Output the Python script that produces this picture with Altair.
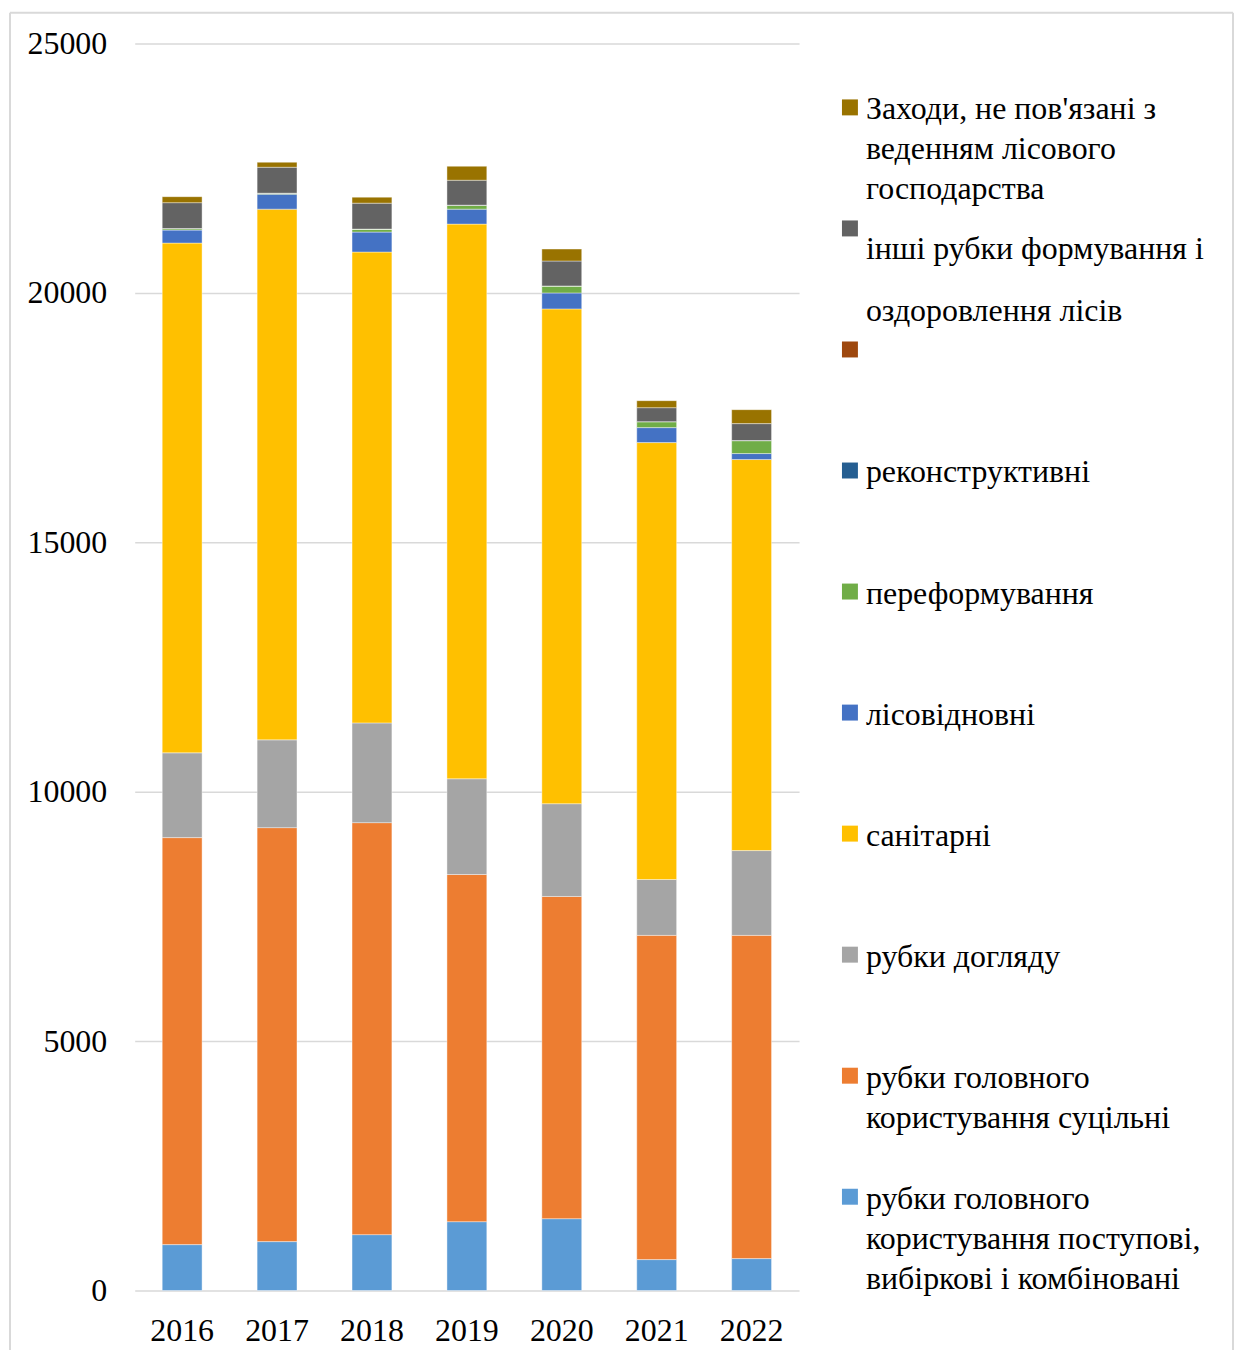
import altair as alt
import pandas as pd

# ---------------- data ----------------
years = ["2016", "2017", "2018", "2019", "2020", "2021", "2022"]

# stack order, bottom to top
series_names = [
    "рубки головного користування поступові, вибіркові і комбіновані",
    "рубки головного користування суцільні",
    "рубки догляду",
    "санітарні",
    "лісовідновні",
    "переформування",
    "реконструктивні",
    "(без назви)",
    "інші рубки формування і оздоровлення лісів",
    "Заходи, не пов'язані з веденням лісового господарства",
]

postupovi = [920, 980, 1120, 1380, 1440, 620, 640]
sucilni = [8160, 8300, 8260, 6960, 6460, 6500, 6480]
dohlyadu = [1700, 1760, 2000, 1920, 1860, 1120, 1700]
sanitarni = [10220, 10640, 9440, 11120, 9920, 8760, 7840]
lisovidnovni = [260, 300, 400, 300, 320, 300, 120]
pereformuvannya = [30, 20, 60, 80, 140, 120, 260]
rekonstruktyvni = [0, 0, 0, 0, 0, 0, 0]
bez_nazvy = [0, 0, 0, 0, 0, 0, 0]
inshi = [520, 520, 520, 500, 500, 280, 340]
zahody = [120, 100, 120, 280, 240, 140, 280]

series_values = [postupovi, sucilni, dohlyadu, sanitarni, lisovidnovni,
                 pereformuvannya, rekonstruktyvni, bez_nazvy, inshi, zahody]

colors = ["#5B9BD5", "#ED7D31", "#A5A5A5", "#FFC000", "#4472C4",
          "#70AD47", "#255E91", "#9E480E", "#636363", "#997300"]

# legend (top to bottom) and its displayed text
legend_order = list(reversed(series_names))
legend_labels = [
    "Заходи, не пов'язані з\nведенням лісового\nгосподарства",
    "інші рубки формування і\nоздоровлення лісів",
    "",
    "реконструктивні",
    "переформування",
    "лісовідновні",
    "санітарні",
    "рубки догляду",
    "рубки головного\nкористування суцільні",
    "рубки головного\nкористування  поступові,\nвибіркові і комбіновані",
]

rows = []
for si, (name, vals) in enumerate(zip(series_names, series_values)):
    for yr, v in zip(years, vals):
        rows.append({"year": yr, "series": name, "value": v, "order": si})
df = pd.DataFrame(rows)

leg_df = pd.DataFrame({
    "series": legend_order,
    "label": legend_labels,
    "special": [n.startswith("інші") for n in legend_order],
})

FONT = "Liberation Serif"
GRID = "#d9d9d9"

color_enc = alt.Color("series:N", scale=alt.Scale(domain=series_names, range=colors), legend=None)

bars = alt.Chart(df).mark_bar(stroke="white", strokeWidth=0.8, strokeOpacity=0.5).encode(
    x=alt.X("year:N", sort=years, title=None,
            scale=alt.Scale(paddingInner=0.58, paddingOuter=0.29),
            axis=alt.Axis(labelAngle=0, labelPadding=25, ticks=False, domain=False,
                          labelFontSize=32, labelFont=FONT, labelColor="black")),
    y=alt.Y("value:Q", stack="zero", title=None,
            scale=alt.Scale(domain=[0, 25000], nice=False),
            axis=alt.Axis(values=[0, 5000, 10000, 15000, 20000, 25000], format="d",
                          ticks=False, domain=False, labelPadding=28,
                          labelFontSize=32, labelFont=FONT, labelColor="black",
                          gridColor=GRID, gridWidth=1.5)),
    color=color_enc,
    order=alt.Order("order:Q", sort="ascending"),
)

leg_y = alt.Y("series:N", sort=legend_order,
              scale=alt.Scale(domain=legend_order, range=[64, 1156], padding=0),
              axis=None)

leg_squares = alt.Chart(leg_df).mark_square(size=256, opacity=1).encode(
    x=alt.value(717), y=leg_y, color=color_enc)

leg_text = alt.Chart(leg_df).transform_filter("!datum.special").mark_text(
    align="left", baseline="top", dy=-13, fontSize=32, font=FONT,
    lineBreak="\n", lineHeight=40, color="black").encode(
    x=alt.value(733), y=leg_y, text="label:N")

leg_text2 = alt.Chart(leg_df).transform_filter("datum.special").mark_text(
    align="left", baseline="top", dy=6, fontSize=32, font=FONT,
    lineBreak="\n", lineHeight=62, color="black").encode(
    x=alt.value(733), y=leg_y, text="label:N")

frame_df = pd.DataFrame({"k": [0]})
frame_left = alt.Chart(frame_df).mark_rule(color=GRID, strokeWidth=2).encode(
    x=alt.value(-125), y=alt.value(-31), y2=alt.value(1330))
frame_right = alt.Chart(frame_df).mark_rule(color=GRID, strokeWidth=2).encode(
    x=alt.value(1101), y=alt.value(-31), y2=alt.value(1330))
frame_top = alt.Chart(frame_df).mark_rule(color=GRID, strokeWidth=2).encode(
    x=alt.value(-125), x2=alt.value(1101), y=alt.value(-31))

chart = alt.layer(
    frame_left, frame_right, frame_top, bars, leg_squares, leg_text, leg_text2
).resolve_scale(y="independent").properties(
    width=666, height=1250,
    autosize=alt.AutoSizeParams(type="none"),
    padding={"left": 127, "top": 34, "right": 436, "bottom": 58},
    background="white",
).configure_view(stroke=None)

chart.save("out.html", embed_options={"renderer": "svg", "actions": False})
